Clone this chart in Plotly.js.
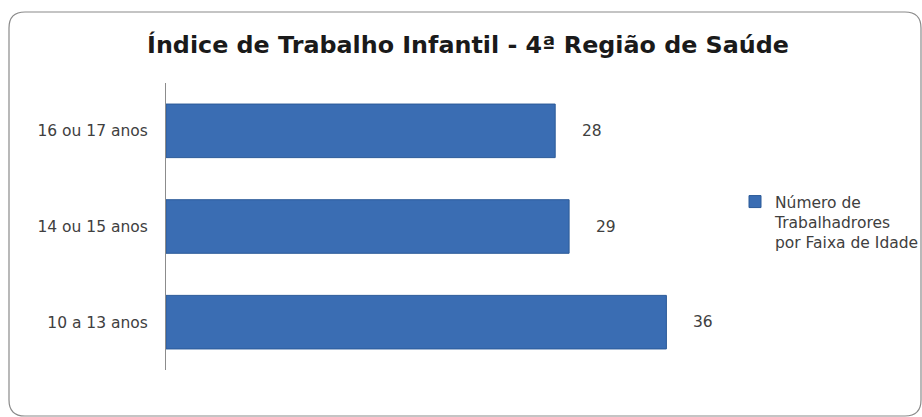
<!DOCTYPE html>
<html><head><meta charset="utf-8">
<script src="https://cdn.plot.ly/plotly-3.0.1.min.js"></script>
<style>html,body{margin:0;padding:0;background:#fff;overflow:hidden;}#chart{width:922px;height:417px;}</style>
</head><body><div id="chart"></div>
<script>
const categories = ["10 a 13 anos", "14 ou 15 anos", "16 ou 17 anos"];
const values = [36, 29, 28];
const seriesName = "Número de<br>Trabalhadrores<br>por Faixa de Idade";
const chartTitle = "Índice de Trabalho Infantil - 4ª Região de Saúde";

const W = 922, H = 417;
const L = 166, R = 200, T = 83, B = 47;
const pw = W - L - R, ph = H - T - B;
function px(x){ return (x - L) / pw; }
function py(y){ return (H - B - y) / ph; }
// rounded border path in paper coords
const bx0 = 9, by0 = 12, bx1 = 921, by1 = 416, r = 16;
const path = [
  `M ${px(bx0 + r)},${py(by0)}`,
  `L ${px(bx1 - r)},${py(by0)}`,
  `Q ${px(bx1)},${py(by0)} ${px(bx1)},${py(by0 + r)}`,
  `L ${px(bx1)},${py(by1 - r)}`,
  `Q ${px(bx1)},${py(by1)} ${px(bx1 - r)},${py(by1)}`,
  `L ${px(bx0 + r)},${py(by1)}`,
  `Q ${px(bx0)},${py(by1)} ${px(bx0)},${py(by1 - r)}`,
  `L ${px(bx0)},${py(by0 + r)}`,
  `Q ${px(bx0)},${py(by0)} ${px(bx0 + r)},${py(by0)}`,
  'Z'
].join(' ');

const font = "DejaVu Sans, Open Sans, sans-serif";
const trace = {
  type: 'bar', orientation: 'h',
  x: values, y: categories,
  name: seriesName,
  width: 0.56,
  marker: { color: '#3a6db3', line: { color: '#2b5a98', width: 1 } },
  hoverinfo: 'x+y'
};
const annotations = values.map((v, i) => ({
  x: v, y: categories[i], xref: 'x', yref: 'y',
  text: String(v), showarrow: false, xanchor: 'left', xshift: 25,
  font: { family: font, size: 15.5, color: '#404040' }
}));
const layout = {
  width: W, height: H,
  margin: { l: L, r: R, t: T, b: B, autoexpand: false },
  paper_bgcolor: '#fff', plot_bgcolor: '#fff',
  title: { text: '<b>' + chartTitle + '</b>', x: 468 / W, xref: 'container', y: 1 - 45 / H, yref: 'container',
           xanchor: 'center', yanchor: 'middle',
           font: { family: font, size: 23.8, color: '#1a1a1a' } },
  xaxis: { range: [0, 40], visible: false, fixedrange: true },
  yaxis: { showline: true, linecolor: '#8c8c8c', linewidth: 1, showgrid: false, zeroline: false,
           ticks: '', ticklabelstandoff: 14,
           tickfont: { family: font, size: 15.5, color: '#404040' }, fixedrange: true },
  showlegend: true,
  legend: { x: px(735), y: py(185), xanchor: 'left', yanchor: 'top', xref: 'paper', yref: 'paper',
            valign: 'top',
            font: { family: font, size: 15.5, color: '#404040' }, bgcolor: 'rgba(0,0,0,0)', itemwidth: 30 },
  annotations: annotations,
  shapes: [{ type: 'path', path: path, xref: 'paper', yref: 'paper', line: { color: '#8a8a8a', width: 1.2 }, fillcolor: 'rgba(0,0,0,0)', layer: 'above' }]
};
Plotly.newPlot('chart', [trace], layout, { displayModeBar: false, staticPlot: true });
</script></body></html>
